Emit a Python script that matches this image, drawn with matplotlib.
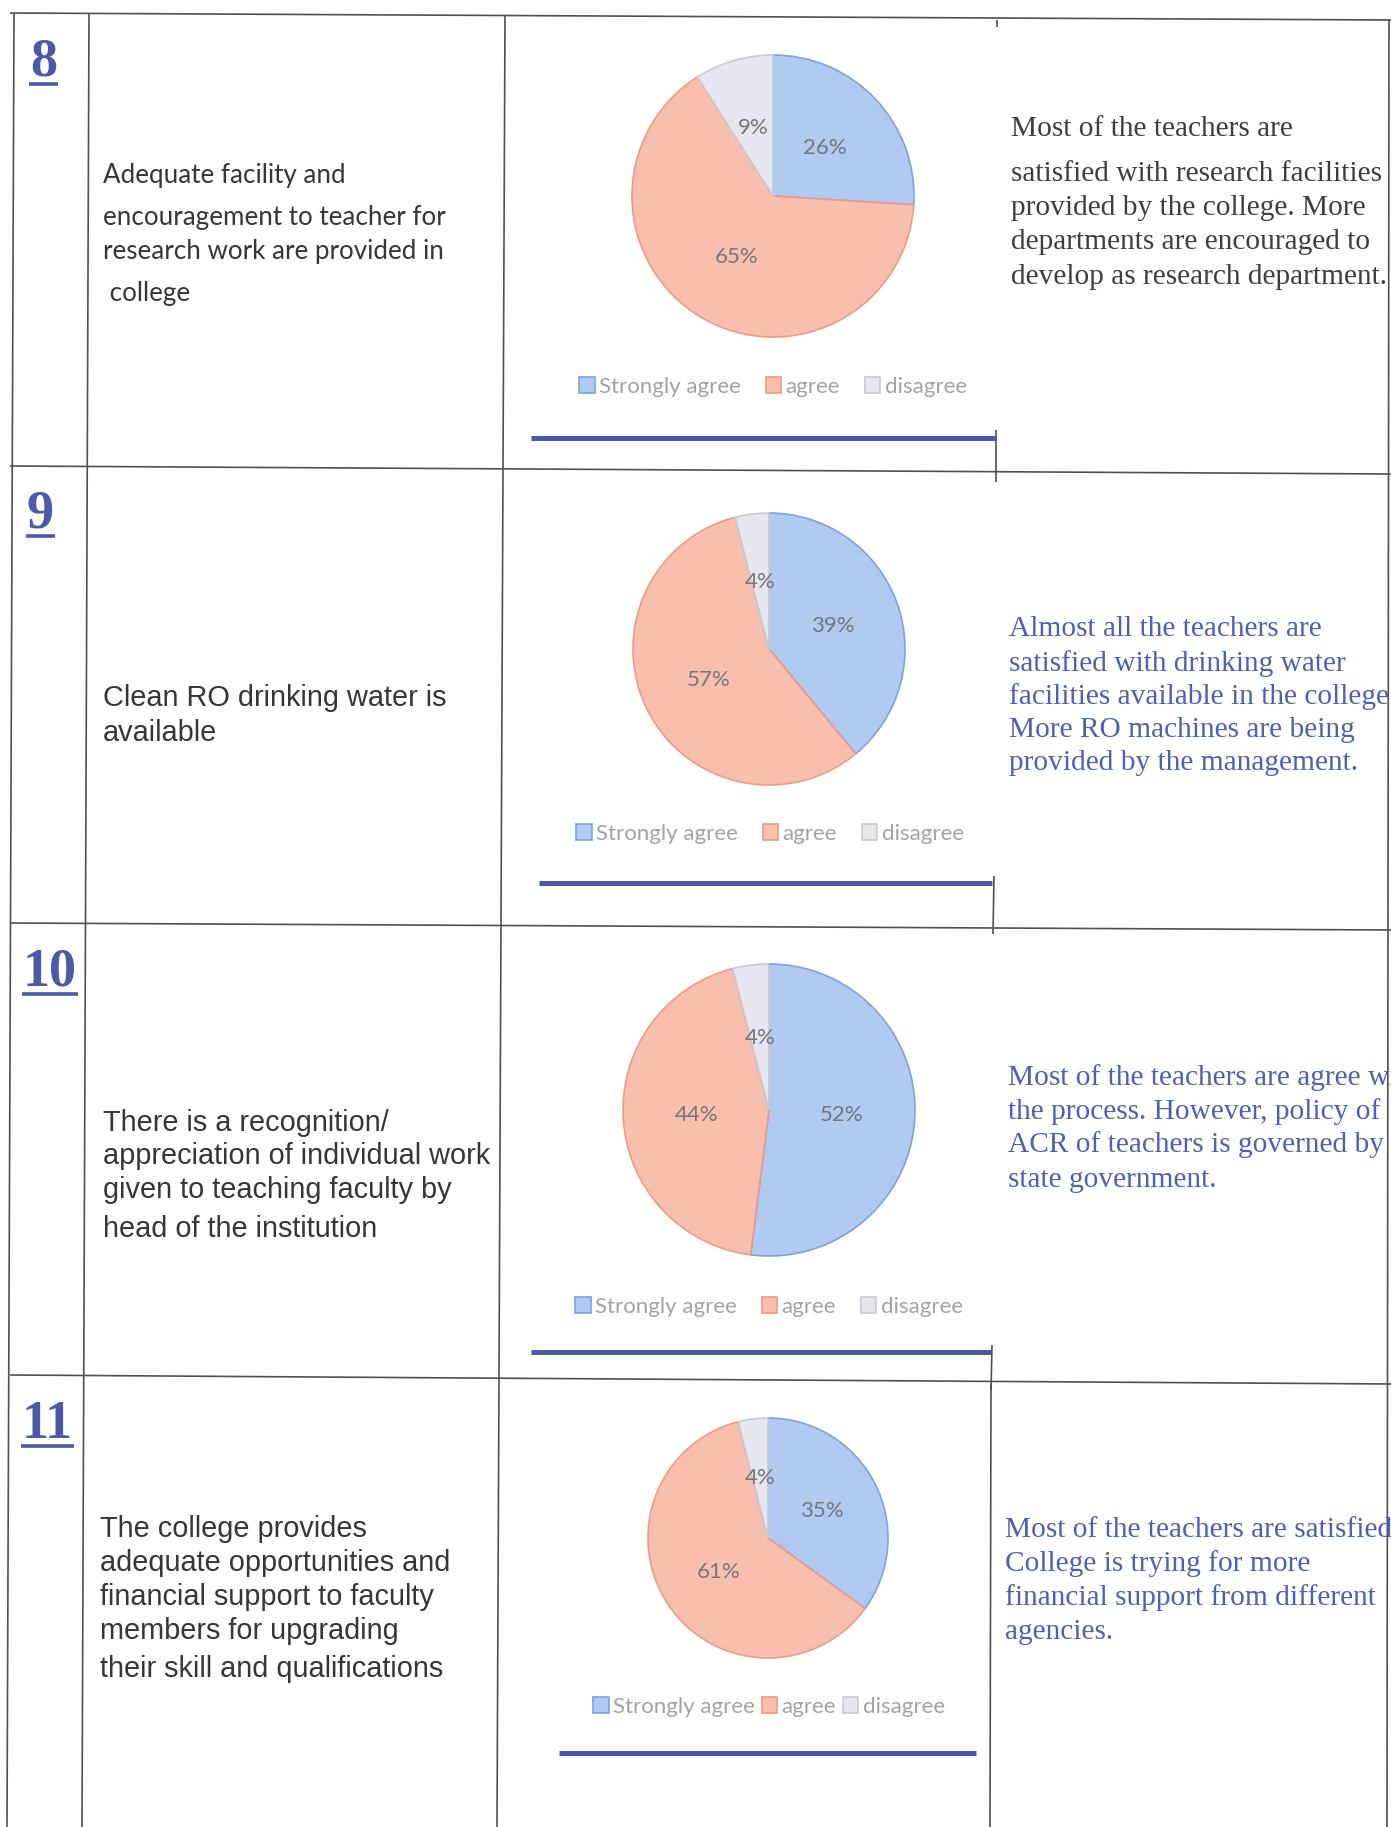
import matplotlib
matplotlib.use('Agg')
import matplotlib.pyplot as plt
from matplotlib.patches import Patch

W, H = 1391, 1827
DPI = 100

# ---------------- data ----------------
item_numbers = ['8', '9', '10', '11']
categories = ['Strongly agree', 'agree', 'disagree']
strongly_agree = [26, 39, 52, 35]
agree = [65, 57, 44, 61]
disagree = [9, 4, 4, 4]

questions = [
    ['Adequate facility and', 'encouragement to teacher for',
     'research work are provided in', ' college'],
    ['Clean RO drinking water is', 'available'],
    ['There is a recognition/', 'appreciation of individual work',
     'given to teaching faculty by', 'head of the institution'],
    ['The college provides', 'adequate opportunities and',
     'financial support to faculty', 'members for upgrading',
     'their skill and qualifications'],
]
remarks = [
    ['Most of the teachers are', 'satisfied with research facilities',
     'provided by the college. More', 'departments are encouraged to',
     'develop as research department.'],
    ['Almost all the teachers are', 'satisfied with drinking water',
     'facilities available in the college', 'More RO machines are being',
     'provided by the management.'],
    ['Most of the teachers are agree with', 'the process. However, policy of',
     'ACR of teachers is governed by', 'state government.'],
    ['Most of the teachers are satisfied.', 'College is trying for more',
     'financial support from different', 'agencies.'],
]

# ---------------- layout (pixels) ----------------
fills = ['#b0caf2', '#f8bfae', '#e6e7ee']
edges = ['#7ea2dc', '#ee9a84', '#c9cad4']
line_col = '#505050'
num_col = '#4a5aa8'

pie_geom = [(773, 196, 141), (769, 649, 136), (769, 1110, 146), (768, 1538, 120)]
legend_pos = [(773, 387, 1.1), (770, 834, 1.1), (769, 1307, 1.1), (769, 1707, 0.3)]
blue_lines = [(531, 996, 438), (539, 992, 883), (531, 991, 1352), (559, 976, 1753)]
num_pos = [(30, 76, 84), (27, 527, 536), (23, 986, 994), (22, 1438, 1446)]
q_fonts = ['Lato', 'Liberation Sans', 'Liberation Sans', 'Liberation Sans']
q_sizes = [18.7, 20.8, 20.8, 20.8]
q_x = [103, 103, 103, 100]
q_y = [[175, 218, 252, 293], [698, 733], [1123, 1156, 1190, 1229],
       [1529, 1563, 1597, 1631, 1669]]
r_x = [1011, 1009, 1008, 1005]
r_y = [[129, 174, 208, 242, 277], [629, 664, 697, 730, 763],
       [1078, 1112, 1145, 1180], [1530, 1564, 1598, 1632]]
r_cols = ['#3e3e3e', '#4f60b0', '#4f60b0', '#4f60b0']

fig = plt.figure(figsize=(W / DPI, H / DPI), dpi=DPI)
fig.patch.set_facecolor('white')
ax = fig.add_axes([0, 0, 1, 1])
ax.set_xlim(0, W)
ax.set_ylim(H, 0)
ax.axis('off')


def seg(x0, y0, x1, y1, color=line_col, lw=1.2):
    ax.plot([x0, x1], [y0, y1], color=color, lw=lw, solid_capstyle='butt')


# table grid (slightly skewed like the scan)
seg(14, 13, 7, 1827)          # left border
seg(89, 13, 82, 1827)         # after number column
seg(505, 16, 497, 1827)       # after question column
seg(1389, 20, 1387, 1827)     # right border
for yl, yr in [(13, 20), (466, 474), (923, 930), (1375, 1384)]:
    seg(10, yl, W, yr)
# column before remarks (only visible around chart pictures)
seg(997, 20, 997, 27)
seg(996, 430, 996, 482)
seg(994, 876, 993, 934)
seg(992, 1345, 991, 1390)
seg(991, 1384, 990, 1827)

fig.canvas.draw()
renderer = fig.canvas.get_renderer()

for i in range(4):
    # item number, underlined
    nx, ny, uy = num_pos[i]
    t = ax.text(nx, ny, item_numbers[i], fontsize=39, fontweight='bold',
                family='Liberation Serif', color=num_col, ha='left', va='baseline')
    bb = t.get_window_extent(renderer=renderer)
    seg(nx - 1, uy, nx + bb.width + 1, uy, color=num_col, lw=2.6)

    # question text
    for line, y in zip(questions[i], q_y[i]):
        ax.text(q_x[i], y, line, fontsize=q_sizes[i], family=q_fonts[i],
                color='#363636', ha='left', va='center')

    # remarks text
    for line, y in zip(remarks[i], r_y[i]):
        ax.text(r_x[i], y, line, fontsize=21.2, family='Liberation Serif',
                color=r_cols[i], ha='left', va='center')

    # pie chart
    cx, cy, r = pie_geom[i]
    axp = fig.add_axes([(cx - r) / W, 1 - (cy + r) / H, 2 * r / W, 2 * r / H])
    vals = [strongly_agree[i], agree[i], disagree[i]]
    wedges, _, autotexts = axp.pie(
        vals, colors=fills, startangle=90, counterclock=False,
        autopct=lambda p: f'{p:.0f}%', pctdistance=0.5,
        wedgeprops=dict(linewidth=1.2),
        textprops=dict(color='#767676', fontsize=16, family='Lato'))
    for w, ec in zip(wedges, edges):
        w.set_edgecolor(ec)
        w.set_clip_on(False)
    axp.set_xlim(-1, 1)
    axp.set_ylim(-1, 1)
    axp.set_aspect('equal')
    axp.axis('off')

    # legend
    lx, ly, cs = legend_pos[i]
    handles = [Patch(facecolor=f, edgecolor=e, lw=1.2) for f, e in zip(fills, edges)]
    fig.legend(handles, categories, loc='center',
               bbox_to_anchor=(lx / W, 1 - ly / H), ncol=3, frameon=False,
               prop={'family': 'Lato', 'size': 16}, labelcolor='#a3a3a3',
               handlelength=0.7, handleheight=0.7, handletextpad=0.2,
               columnspacing=cs, borderpad=0, borderaxespad=0)

    # blue rule under the chart
    x0, x1, yb = blue_lines[i]
    seg(x0, yb, x1, yb, color='#4a58a8', lw=3.6)

fig.savefig('out.png', dpi=DPI, facecolor='white')
